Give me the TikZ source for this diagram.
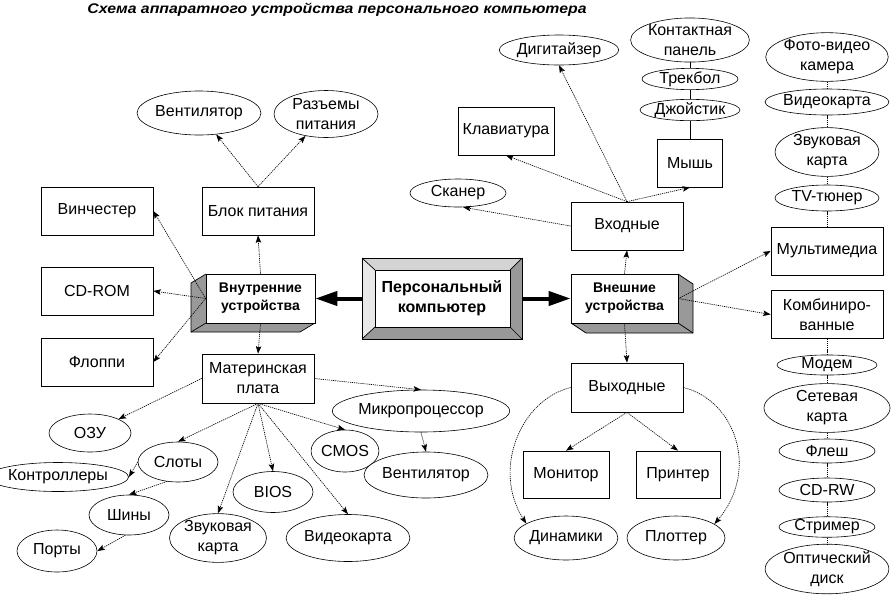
\documentclass[tikz,border=0pt]{standalone}
\usepackage{fontspec}
\setmainfont{Liberation Sans}
\usetikzlibrary{shapes.geometric,arrows.meta}
\definecolor{bevdark}{HTML}{999999}
\definecolor{bevtop}{HTML}{D4D4D4}
\definecolor{bevleft}{HTML}{E8E8E8}
\begin{document}
\begin{tikzpicture}[x=1pt,y=-1pt,
  txt/.style={font=\fontsize{16}{20}\selectfont,align=center,inner sep=0pt},
  box/.style={txt,draw,line width=0.7pt,rectangle,fill=white},
  ell/.style={txt,draw,line width=0.6pt,ellipse,fill=white},
  front/.style={draw,line width=0.7pt,fill=white,rectangle,inner sep=0pt,align=center,font=\bfseries\fontsize{14}{18}\selectfont},
  con/.style={line width=0.65pt,dash pattern=on 1.2pt off 0.9pt,-{Stealth[length=7.5pt,width=5.5pt,inset=1.5pt]}},
  link/.style={line width=0.65pt,dash pattern=on 1.2pt off 0.9pt},
  solidlink/.style={line width=0.6pt},
  bigarrow/.style={line width=4pt,-{Triangle[length=22pt,width=14pt]}},
  bw/.style={minimum width=#1},
  bh/.style={minimum height=#1}]
\useasboundingbox (0,0) rectangle (894,598);
\fill[white] (0,0) rectangle (894,598);

% title
\node[inner sep=0pt] (title) at (337,10) {\scalebox{1.13}[1]{\bfseries\itshape\fontsize{14}{16}\selectfont Схема аппаратного устройства персонального компьютера}};

% ---------- inner devices bevel box
\fill[bevdark] (206,274) -- (191,283) -- (191,332) -- (206,323) -- cycle;
\fill[bevdark] (191,332) -- (300,332) -- (315,323) -- (206,323) -- cycle;
\draw[line width=0.7pt] (206,274) -- (191,283) -- (191,332) -- (300,332) -- (315,323);
\draw[line width=0.7pt] (206,323) -- (191,332);
\node[front,bw=109pt,bh=49pt] (inner) at (260.5,298.5) {Внутренние\\устройства};

% ---------- external devices bevel box
\fill[bevdark] (678,274) -- (693,284) -- (693,333) -- (678,323) -- cycle;
\fill[bevdark] (571,323) -- (586,333) -- (693,333) -- (678,323) -- cycle;
\draw[line width=0.7pt] (678,274) -- (693,284) -- (693,333) -- (586,333) -- (571,323);
\draw[line width=0.7pt] (678,323) -- (693,333);
\node[front,bw=107pt,bh=49pt] (ext) at (624.5,298.5) {Внешние\\устройства};

% ---------- personal computer bevel box
\fill[bevtop] (362,258) -- (522,258) -- (510,270) -- (375,270) -- cycle;
\fill[bevleft] (362,258) -- (375,270) -- (375,327) -- (362,339) -- cycle;
\fill[bevdark] (522,258) -- (522,339) -- (510,327) -- (510,270) -- cycle;
\fill[bevdark] (362,339) -- (522,339) -- (510,327) -- (375,327) -- cycle;
\draw[line width=0.7pt] (375,270) rectangle (510,327);
\draw[line width=0.7pt] (362,258) -- (375,270) (522,258) -- (510,270) (522,339) -- (510,327) (362,339) -- (375,327);
\node[draw,line width=0.7pt,rectangle,inner sep=0pt,bw=160pt,bh=81pt,align=center,font=\bfseries\fontsize{16}{20}\selectfont] (pc) at (442,298.5) {Персональный\\компьютер};

% ---------- boxes
\node[box,bw=112pt,bh=48pt] (vinch) at (97,211) {Винчестер};
\node[box,bw=112pt,bh=48pt] (blok) at (258,211) {Блок питания};
\node[box,bw=112pt,bh=48pt] (cdrom) at (97,291) {CD-ROM};
\node[box,bw=112pt,bh=48pt] (flop) at (97,362) {Флоппи};
\node[box,bw=112pt,bh=49pt] (mat) at (258,378.5) {Материнская\\плата};
\node[box,bw=96pt,bh=48pt] (klav) at (506,131) {Клавиатура};
\node[box,bw=65pt,bh=48pt] (mysh) at (690,163) {Мышь};
\node[box,bw=112pt,bh=48pt] (vhod) at (627,226) {Входные};
\node[box,bw=112pt,bh=49pt] (vyhod) at (627,387.5) {Выходные};
\node[box,bw=86pt,bh=47pt] (monit) at (566,474.5) {Монитор};
\node[box,bw=84pt,bh=47pt] (printer) at (678,474.5) {Принтер};
\node[box,bw=112pt,bh=48pt] (multi) at (827,251) {Мультимедиа};
\node[box,bw=112pt,bh=48pt] (komb) at (827,314.5) {Комбиниро-\\ванные};

% ---------- ellipses left
\node[ell,bw=104pt,bh=44pt] (vent1) at (199,113) {Вентилятор};
\node[ell,bw=104pt,bh=47pt] (razm) at (326,114) {Разъемы\\питания};
\node[ell,bw=82pt,bh=38pt] (ozu) at (90,433) {ОЗУ};
\node[ell,bw=80pt,bh=40pt] (sloty) at (178,462) {Слоты};
\node[ell,bw=114pt,bh=29pt] (kontr) at (58,477) {Контроллеры};
\node[ell,bw=80pt,bh=40pt] (shiny) at (129,515) {Шины};
\node[ell,bw=80pt,bh=42pt] (porty) at (57,551) {Порты};
\node[ell,bw=97pt,bh=47pt] (zvuk1) at (218,538) {Звуковая\\карта};
\node[ell,bw=80pt,bh=41pt] (bios) at (273,492) {BIOS};
\node[ell,bw=65pt,bh=42pt] (cmos) at (345,451) {CMOS};
\node[ell,bw=103pt,bh=47pt] (video1) at (348,538) {Видеокарта};
\node[ell,bw=132pt,bh=42pt] (micro) at (421,411) {Микропроцессор};
\node[ell,bw=102pt,bh=46pt] (vent2) at (426,475) {Вентилятор};

% ---------- ellipses input
\node[ell,bw=96pt,bh=28pt] (skaner) at (458,193) {Сканер};
\node[ell,bw=106pt,bh=30pt] (digit) at (559,50) {Дигитайзер};
\node[ell,bw=95pt,bh=20pt] (dzhoy) at (690,110) {Джойстик};
\node[ell,bw=96pt,bh=20pt] (trek) at (690,79) {Трекбол};
\node[ell,bw=114pt,bh=40pt] (kontakt) at (690,40) {Контактная\\панель};

% ---------- ellipses right column
\node[ell,bw=108pt,bh=42pt] (foto) at (827,57) {Фото-видео\\камера};
\node[ell,bw=104pt,bh=26pt] (video2) at (827,102) {Видеокарта};
\node[ell,bw=104pt,bh=42pt] (zvuk2) at (827,152) {Звуковая\\карта};
\node[ell,bw=104pt,bh=26pt] (tv) at (827,198) {TV-тюнер};
\node[ell,bw=100pt,bh=20pt] (modem) at (827,365) {Модем};
\node[ell,bw=126pt,bh=40pt] (setk) at (827,408) {Сетевая\\карта};
\node[ell,bw=96pt,bh=24pt] (flesh) at (827,451) {Флеш};
\node[ell,bw=96pt,bh=24pt] (cdrw) at (827,490) {CD-RW};
\node[ell,bw=96pt,bh=20pt] (strim) at (827,527) {Стример};
\node[ell,bw=114pt,bh=44pt] (opt) at (827,569) {Оптический\\диск};

% ---------- ellipses output
\node[ell,bw=90pt,bh=44pt] (dinam) at (566,538) {Динамики};
\node[ell,bw=98pt,bh=44pt] (plot) at (676,538) {Плоттер};

% ---------- big arrows
\draw[bigarrow] (pc.west) -- (inner.east);
\draw[bigarrow] (pc.east) -- (ext.west);

% ---------- inner connectors
\draw[con] (inner.north) -- (blok.south);
\draw[con] (inner.south) -- (mat.north);
\draw[con] (inner.west) -- (vinch.east);
\draw[con] (inner.west) -- (cdrom.east);
\draw[con] (inner.west) -- (flop.east);
\draw[con] (blok.north) -- (vent1);
\draw[con] (blok.north) -- (razm);
\draw[con] (mat.west) -- (ozu);
\draw[con] (mat.south) -- (sloty.north);
\draw[con] (mat.south) -- (zvuk1.north);
\draw[con] (mat.south) -- (bios.north);
\draw[con] (mat.south) -- (cmos.north);
\draw[con] (mat.south) -- (video1.north);
\draw[con] (mat.east) -- (micro.north);
\draw[con] (micro.south) -- (vent2.north);
\draw[con] (sloty.west) -- (kontr.east);
\draw[con] (sloty.-120) -- (shiny.north);
\draw[con] (shiny.-100) -- (porty.east);

% ---------- external connectors
\draw[con] (ext.north) -- (vhod.south);
\draw[con] (ext.south) -- (vyhod.north);
\draw[con] (ext.east) -- (multi.west);
\draw[con] (ext.east) -- (komb.west);
\draw[con] (vhod.west) -- (skaner.-70);
\draw[con] (vhod.north) -- (klav.south);
\draw[con] (vhod.north) -- (digit.south);
\draw[con] (vhod.north) -- (mysh.south);
\draw[solidlink] (mysh.north) -- (dzhoy.south);
\draw[solidlink] (dzhoy.north) -- (trek.south);
\draw[solidlink] (trek.north) -- (kontakt.south);
\draw[link] (foto.south) -- (video2.north);
\draw[link] (video2.south) -- (zvuk2.north);
\draw[link] (zvuk2.south) -- (tv.north);
\draw[link] (tv.south) -- (multi.north);
\draw[link] (komb.south) -- (modem.north);
\draw[link] (modem.south) -- (setk.north);
\draw[link] (setk.south) -- (flesh.north);
\draw[link] (flesh.south) -- (cdrw.north);
\draw[link] (cdrw.south) -- (strim.north);
\draw[link] (strim.south) -- (opt.north);
\draw[con] (vyhod.south) -- (monit.north);
\draw[con] (vyhod.south) -- (printer.north);
\draw[con] (vyhod.west) .. controls (520,400) and (492,470) .. (dinam.160);
\draw[con] (vyhod.east) .. controls (735,400) and (760,470) .. (plot.20);
\end{tikzpicture}
\end{document}
